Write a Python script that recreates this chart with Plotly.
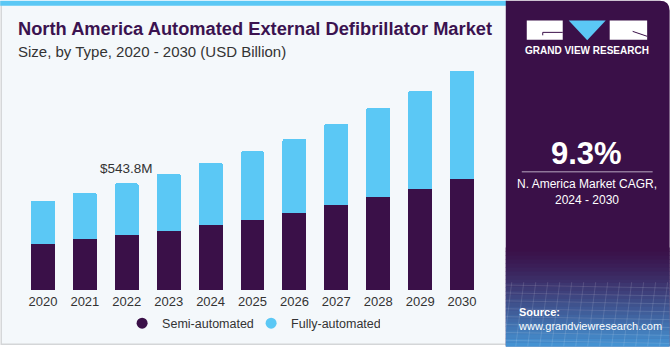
import plotly.graph_objects as go

years = ["2020", "2021", "2022", "2023", "2024", "2025", "2026", "2027", "2028", "2029", "2030"]
semi_automated = [0.233, 0.260, 0.280, 0.299, 0.331, 0.356, 0.394, 0.433, 0.475, 0.517, 0.564]
fully_automated = [0.222, 0.237, 0.2638, 0.295, 0.319, 0.352, 0.376, 0.416, 0.453, 0.500, 0.554]
highlight_label = "$543.8M"
highlight_year = "2022"
cagr_text = "9.3%"

SEMI = "#3a1048"
FULLY = "#5bc8f5"
TXT = "#333333"
FONT = "Liberation Sans, Arial, sans-serif"

FW, FH = 670, 350
L, T = 21.8, 60.0
PW, PH = 461.4, 233.0
R = FW - L - PW
B = FH - T - PH


def px(x):
    return (x - L) / PW


def py(y):
    return (T + PH - y) / PH


fig = go.Figure()
fig.add_trace(go.Bar(x=years, y=semi_automated, name="Semi-automated", marker=dict(color=SEMI, line=dict(width=0)),
                     showlegend=False))
fig.add_trace(go.Bar(x=years, y=fully_automated, name="Fully-automated", marker=dict(color=FULLY, line=dict(width=0)),
                     showlegend=False))
fig.add_trace(go.Scatter(x=[None], y=[None], mode="markers", name="Semi-automated",
                         marker=dict(color=SEMI, size=11, symbol="circle")))
fig.add_trace(go.Scatter(x=[None], y=[None], mode="markers", name="Fully-automated",
                         marker=dict(color=FULLY, size=11, symbol="circle")))

totals = [a + b for a, b in zip(semi_automated, fully_automated)]
hi = years.index(highlight_year)

shapes = []
# card background
shapes.append(dict(type="rect", xref="paper", yref="paper", x0=px(1), x1=px(520), y0=py(348), y1=py(1),
                   fillcolor="#f4f8fb", line=dict(color="#d4d6d8", width=1.5), layer="below"))
# top blue stripe
shapes.append(dict(type="rect", xref="paper", yref="paper", x0=px(0), x1=px(507), y0=py(5), y1=py(0),
                   fillcolor=FULLY, line=dict(width=0), layer="below"))
# right panel
shapes.append(dict(type="path", xref="paper", yref="paper",
                   path="M {a},{b} L {c},{b} Q {d},{b} {d},{e} L {d},{f} L {a},{f} Z".format(
                       a=px(506), b=py(0), c=px(660), d=px(670), e=py(10), f=py(350)),
                   fillcolor=SEMI, line=dict(width=0), layer="above"))
# gradient at the bottom of right panel
n = 25
y_start, y_end = 250, 350
c0 = (0x3a, 0x10, 0x48)
c1 = (0x45, 0x96, 0xd6)
for i in range(n):
    y0 = y_start + (y_end - y_start) * i / n
    y1 = y_start + (y_end - y_start) * (i + 1) / n
    t = ((i + 0.5) / n) ** 1.3
    col = "rgb({},{},{})".format(*[int(c0[k] + (c1[k] - c0[k]) * t) for k in range(3)])
    shapes.append(dict(type="rect", xref="paper", yref="paper", x0=px(506), x1=px(670), y0=py(y1 + 0.5), y1=py(y0),
                       fillcolor=col, line=dict(width=0), layer="above"))
# faint grid texture
for gx in range(512, 670, 12):
    shapes.append(dict(type="line", xref="paper", yref="paper", x0=px(gx), x1=px(gx - 8), y0=py(285), y1=py(350),
                       line=dict(color="rgba(255,255,255,0.12)", width=1), layer="above"))
for gy in range(288, 350, 8):
    shapes.append(dict(type="line", xref="paper", yref="paper", x0=px(506), x1=px(670), y0=py(gy), y1=py(gy + 3),
                       line=dict(color="rgba(255,255,255,0.12)", width=1), layer="above"))
# logo
shapes.append(dict(type="rect", xref="paper", yref="paper", x0=px(527), x1=px(563), y0=py(39.5), y1=py(20),
                   fillcolor="white", line=dict(width=0), layer="above"))
shapes.append(dict(type="line", xref="paper", yref="paper", x0=px(543), x1=px(563), y0=py(32), y1=py(32),
                   line=dict(color=SEMI, width=1), layer="above"))
shapes.append(dict(type="line", xref="paper", yref="paper", x0=px(543), x1=px(543), y0=py(32), y1=py(35),
                   line=dict(color=SEMI, width=1), layer="above"))
shapes.append(dict(type="path", xref="paper", yref="paper",
                   path="M {},{} L {},{} L {},{} Z".format(px(569), py(20), px(606), py(20), px(587.5), py(40)),
                   fillcolor=FULLY, line=dict(width=0), layer="above"))
shapes.append(dict(type="rect", xref="paper", yref="paper", x0=px(610), x1=px(647.5), y0=py(39.5), y1=py(20),
                   fillcolor="white", line=dict(width=0), layer="above"))
shapes.append(dict(type="line", xref="paper", yref="paper", x0=px(633), x1=px(647.5), y0=py(31), y1=py(36),
                   line=dict(color=SEMI, width=1), layer="above"))
# CAGR separator
shapes.append(dict(type="line", xref="paper", yref="paper", x0=px(522), x1=px(653), y0=py(173.3), y1=py(173.3),
                   line=dict(color="#b9a9c2", width=1), layer="above"))

annotations = [
    dict(text="<b>North America Automated External Defibrillator Market</b>", xref="paper", yref="paper",
         x=px(16), y=py(28.5), xanchor="left", yanchor="middle", showarrow=False,
         font=dict(family=FONT, size=18.3, color="#3b1350")),
    dict(text="Size, by Type, 2020 - 2030 (USD Billion)", xref="paper", yref="paper",
         x=px(16), y=py(51), xanchor="left", yanchor="middle", showarrow=False,
         font=dict(family=FONT, size=15, color=TXT)),
    dict(text=highlight_label, xref="x", yref="y", x=hi, y=totals[hi], xanchor="center",
         yanchor="bottom", yshift=5, showarrow=False, font=dict(family=FONT, size=13.5, color=TXT)),
    dict(text="<b>GRAND VIEW RESEARCH</b>", xref="paper", yref="paper", x=px(587.5), y=py(50.5),
         xanchor="center", yanchor="middle", showarrow=False, font=dict(family=FONT, size=10, color="white")),
    dict(text="<b>" + cagr_text + "</b>", xref="paper", yref="paper", x=px(587), y=py(155),
         xanchor="center", yanchor="middle", showarrow=False, font=dict(family=FONT, size=31, color="white")),
    dict(text="N. America Market CAGR,<br>2024 - 2030", xref="paper", yref="paper", x=px(587), y=py(194),
         xanchor="center", yanchor="middle", showarrow=False, align="center",
         font=dict(family=FONT, size=12, color="white")),
    dict(text="<b>Source:</b><br>www.grandviewresearch.com", xref="paper", yref="paper", x=px(516), y=py(322),
         xanchor="left", yanchor="middle", showarrow=False, align="left",
         font=dict(family=FONT, size=11, color="white")),
]

fig.update_layout(
    width=FW, height=FH,
    margin=dict(l=L, r=R, t=T, b=B, pad=0),
    paper_bgcolor="white", plot_bgcolor="rgba(0,0,0,0)",
    barmode="stack", bargap=0.428,
    barcornerradius=2,
    font=dict(family=FONT, color=TXT),
    showlegend=True,
    legend=dict(orientation="h", traceorder="normal", x=px(122), xanchor="left", y=py(327), yanchor="middle",
                font=dict(family=FONT, size=12.5, color=TXT), bgcolor="rgba(0,0,0,0)",
                itemwidth=30, tracegroupgap=0, entrywidth=84, entrywidthmode="pixels"),
    xaxis=dict(type="category", showgrid=False, showline=False, zeroline=False, ticks="", ticklabelstandoff=2,
               tickfont=dict(family=FONT, size=13, color=TXT), range=[-0.5, 10.5]),
    yaxis=dict(showgrid=False, showline=False, zeroline=False, showticklabels=False, range=[0, 1.173],
               fixedrange=True),
    shapes=shapes,
    annotations=annotations,
)

fig.write_html("out.html")
